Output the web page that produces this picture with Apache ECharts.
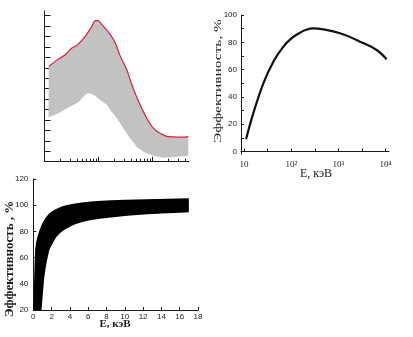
<!DOCTYPE html>
<html>
<head>
<meta charset="utf-8">
<script src="https://cdn.jsdelivr.net/npm/echarts@6/dist/echarts.min.js"></script>
<style>
  html, body { margin: 0; padding: 0; background: #fff; }
  #chart { width: 413px; height: 337px; }
</style>
</head>
<body>
<div id="chart"></div>
<script>
// ---- Panel A: band between a lower bound and an upper (red) bound, log x ----
const spanTopX = [1.20, 1.58, 2.42, 3.22, 3.98, 5.67, 7.55, 8.69, 9.75, 11.6, 16.6, 20.5, 25.5, 33.6, 41.6, 59.2, 78.7, 104, 139, 198, 283, 375, 464];
const spanTopY = [9.13, 9.62, 10.26, 10.9, 11.15, 12.02, 12.98, 13.53, 13.53, 13.14, 12.18, 11.38, 10.1, 8.82, 7.38, 5.45, 4.17, 3.21, 2.73, 2.40, 2.37, 2.35, 2.40];
const spanLowX = [1.19, 1.82, 2.78, 4.26, 5.67, 6.53, 8.08, 10.7, 14.3, 16.5, 21.9, 29, 38.6, 51.4, 68.1, 104, 160, 283, 464];
const spanLowY = [4.27, 4.65, 5.19, 5.71, 6.41, 6.58, 6.41, 5.93, 5.45, 4.97, 4.17, 3.21, 2.25, 1.44, 0.96, 0.58, 0.38, 0.48, 0.58];
const spanMajorTicks = [10, 100];
const spanMinorTicks = [2, 3, 4, 5, 6, 7, 8, 9, 20, 30, 40, 50, 60, 70, 80, 90, 200, 300, 400];
const spanYTicks = [1, 2, 3, 4, 5, 6, 7, 8, 9, 10, 11, 12, 13, 14];

// ---- Panel B: efficiency vs energy, log x ----
const effEnergy = [11, 15.7, 25.6, 41.7, 68, 102, 153, 200, 294, 479, 1081, 2870, 6460, 10500];
const effValue  = [9, 28.1, 50, 65.8, 76.8, 83, 87, 89, 90.2, 89.5, 86.6, 80.5, 74.4, 67.6];
const effTickValues  = [10, 31.6, 100, 316, 1000, 3162, 10000];
const effLabelValues = [10, 100, 1000, 10000];
const effLabelTexts  = ['10', '10\u00b2', '10\u00b3', '10\u2074'];
const effYTicks  = [0, 10, 20, 30, 40, 50, 60, 70, 80, 90, 100];
const effYLabels = [0, 20, 40, 60, 80, 100];

// ---- Panel C: efficiency band vs energy, linear x ----
const bandTopE = [0, 0.05, 0.1, 0.15, 0.2, 0.3, 0.45, 0.7, 0.97, 1.3, 1.7, 2.1, 2.6, 3.1, 3.7, 4.4, 5.1, 6, 7, 8.5, 10, 13.5, 17];
const bandTopV = [20, 33, 45, 57, 66, 71.5, 76, 81.5, 86, 90, 93.5, 95.6, 97.5, 99, 100.2, 101.2, 101.9, 102.6, 103.2, 103.7, 104.1, 104.7, 105.3];
const bandLowE = [0.9, 1.05, 1.2, 1.35, 1.5, 1.75, 2, 2.2, 2.5, 2.9, 3.4, 4, 4.5, 5.1, 5.8, 6.5, 7.5, 8.5, 10, 11, 12.5, 14, 15.5, 17];
const bandLowV = [20, 33, 45, 52, 58, 65.8, 69.5, 72, 75.5, 78.5, 81.3, 83.6, 85.2, 86.6, 87.9, 88.9, 89.9, 90.7, 91.7, 92.3, 93, 93.6, 94.1, 94.6];

const zip = (xs, ys) => xs.map((x, i) => [x, ys[i]]);

// Closed region: upper edge left->right, then lower edge right->left
function bandSeries(top, low, xIdx, yIdx, color) {
  return {
    type: 'custom',
    xAxisIndex: xIdx, yAxisIndex: yIdx,
    data: [top[0]],
    silent: true,
    z: 2,
    renderItem: function (params, api) {
      const pts = top.map(p => api.coord(p)).concat(low.slice().reverse().map(p => api.coord(p)));
      return {
        type: 'polygon',
        shape: { points: pts },
        style: { fill: color, stroke: null }
      };
    }
  };
}

const axisBlack = { lineStyle: { color: '#1a1a1a', width: 1 } };
const tickFont = { fontFamily: 'Liberation Sans', fontSize: 8, color: '#1a1a1a' };

const chart = echarts.init(document.getElementById('chart'), null, { renderer: 'canvas' });

chart.setOption({
  backgroundColor: '#fff',
  animation: false,
  grid: [
    { left: 44.5, top: 11, width: 144.5, height: 150.7 },
    { left: 241, top: 15, width: 148, height: 139.3 },
    { left: 33.3, top: 179, width: 164.7, height: 131 }
  ],
  xAxis: [
    { gridIndex: 0, type: 'log', position: 'bottom', min: 1, max: 478, axisLine: axisBlack,
      axisTick: { inside: true, length: 5, lineStyle: { color: '#1a1a1a' }, customValues: spanMajorTicks },
      axisLabel: { show: false }, splitLine: { show: false } },
    { gridIndex: 0, type: 'log', position: 'bottom', offset: 0, min: 1, max: 478, axisLine: { show: false },
      axisTick: { inside: true, length: 3, lineStyle: { color: '#1a1a1a' }, customValues: spanMinorTicks },
      axisLabel: { show: false }, splitLine: { show: false } },
    { gridIndex: 1, type: 'log', min: 8.6, max: 11800, axisLine: axisBlack,
      axisTick: { inside: true, length: 3, lineStyle: { color: '#1a1a1a' }, customValues: effTickValues },
      axisLabel: Object.assign({}, tickFont, { margin: 6, fontFamily: 'Liberation Serif', fontSize: 9,
        customValues: effLabelValues,
        formatter: v => effLabelTexts[effLabelValues.indexOf(Math.round(v))] || '' }),
      splitLine: { show: false } },
    { gridIndex: 2, type: 'value', min: 0, max: 18, interval: 2, axisLine: axisBlack,
      axisTick: { inside: true, length: 3, lineStyle: { color: '#1a1a1a' } },
      axisLabel: Object.assign({}, tickFont, { margin: 3 }),
      splitLine: { show: false } }
  ],
  yAxis: [
    { gridIndex: 0, type: 'value', min: 0, max: 14.45, axisLine: axisBlack,
      axisTick: { inside: true, length: 6, lineStyle: { color: '#1a1a1a' }, customValues: spanYTicks },
      axisLabel: { show: false }, splitLine: { show: false } },
    { gridIndex: 1, type: 'value', min: -2, max: 100, axisLine: axisBlack,
      axisTick: { inside: true, length: 3, lineStyle: { color: '#1a1a1a' }, customValues: effYTicks },
      axisLabel: Object.assign({}, tickFont, { margin: 4, customValues: effYLabels }),
      splitLine: { show: false } },
    { gridIndex: 2, type: 'value', min: 20, max: 120, interval: 20, axisLine: axisBlack,
      axisTick: { inside: true, length: 3, lineStyle: { color: '#1a1a1a' } },
      axisLabel: Object.assign({}, tickFont, { margin: 5 }),
      splitLine: { show: false } }
  ],
  series: [
    bandSeries(zip(spanTopX, spanTopY), zip(spanLowX, spanLowY), 0, 0, '#c2c2c2'),
    { type: 'line', xAxisIndex: 0, yAxisIndex: 0, data: zip(spanTopX, spanTopY),
      smooth: 0.3, showSymbol: false, z: 3,
      lineStyle: { color: '#d4213d', width: 1.2 } },
    { type: 'line', xAxisIndex: 2, yAxisIndex: 1, data: zip(effEnergy, effValue),
      smooth: 0.4, showSymbol: false,
      lineStyle: { color: '#111', width: 2.2 } },
    bandSeries(zip(bandTopE, bandTopV), zip(bandLowE, bandLowV), 3, 2, '#000')
  ],
  graphic: [
    { type: 'text', x: 218, y: 81, rotation: Math.PI / 2, scaleX: 1.4,
      style: { text: 'Эффективность, %', fontFamily: 'Liberation Serif', fontSize: 11,
               fill: '#1a1a1a', align: 'center', verticalAlign: 'middle' } },
    { type: 'text', x: 316, y: 174,
      style: { text: 'E, кэВ', fontFamily: 'Liberation Serif', fontSize: 12,
               fill: '#1a1a1a', align: 'center', verticalAlign: 'middle' } },
    { type: 'text', x: 10, y: 259, rotation: Math.PI / 2,
      style: { text: 'Эффективность , %', fontFamily: 'Liberation Serif', fontSize: 13, fontWeight: 'bold',
               fill: '#1a1a1a', align: 'center', verticalAlign: 'middle' } },
    { type: 'text', x: 115, y: 324,
      style: { text: 'E, кэВ', fontFamily: 'Liberation Serif', fontSize: 11, fontWeight: 'bold',
               fill: '#1a1a1a', align: 'center', verticalAlign: 'middle' } }
  ]
});
</script>
</body>
</html>
